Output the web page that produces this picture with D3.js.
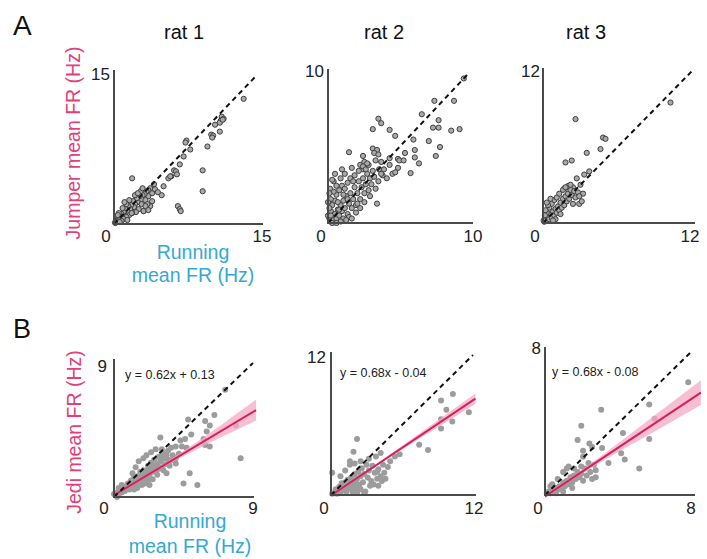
<!DOCTYPE html>
<html><head><meta charset="utf-8">
<script src="https://cdn.jsdelivr.net/npm/d3@7"></script>
<style>body{margin:0;background:#fff}svg{display:block}text{font-family:"Liberation Sans",Arial,sans-serif}</style>
</head><body>
<svg id="c" width="707" height="559"></svg>
<script>
// ---------- data ----------
const ratNames = ["rat 1", "rat 2", "rat 3"];
const panelMaxA = [15, 10, 12];
const panelMaxB = [9, 12, 8];
const slopes = [0.62, 0.68, 0.68];
const intercepts = [0.13, -0.04, -0.08];
const eqLabels = ["y = 0.62x + 0.13", "y = 0.68x - 0.04", "y = 0.68x - 0.08"];
const fitXEnd = [9.2, 12.2, 8.6];
const bandX = [[0, 2, 4, 6, 8, 9.2], [0, 3, 6, 9, 12.2], [0, 2, 4, 6, 8.6]];
const bandHalf = [[0.1, 0.08, 0.15, 0.3, 0.55, 0.7], [0.1, 0.08, 0.15, 0.3, 0.45], [0.1, 0.1, 0.25, 0.45, 0.7]];

const aRat1 = [[13.6,12.6],[11.3,10.8],[11.5,10.6],[11.2,10.4],[11.1,10.2],[11.4,10.5],[10.6,10.0],[11.1,9.3],[10.2,9.0],[10.4,8.9],[10.3,8.7],[9.8,7.8],[7.6,8.4],[7.5,8.2],[8.0,7.5],[7.3,6.8],[6.9,6.0],[6.3,5.4],[6.5,5.3],[6.6,5.0],[6.0,4.8],[5.7,4.6],[5.9,4.8],[9.3,5.4],[9.3,3.3],[5.2,3.8],[5.0,2.9],[6.7,1.8],[6.9,1.5],[7.0,1.3],[1.9,4.6],
[3.8,3.6],[3.6,3.4],[3.4,3.3],[4.0,3.1],[3.6,2.8],[4.0,2.3],[3.8,1.8],[3.2,3.0],[3.0,2.9],[2.9,2.5],[2.7,2.8],[2.5,2.2],[2.4,2.6],[2.2,2.0],[2.0,2.3],[2.1,1.7],[1.8,1.9],[1.7,1.5],[1.5,1.8],[1.4,1.3],[1.2,1.5],[1.1,1.0],[1.0,1.2],[0.9,0.8],[0.8,1.0],[0.7,0.6],[0.6,0.8],[0.5,0.4],[0.4,0.5],[0.3,0.3],[0.2,0.2],[0.15,0.1],[0.1,0.15],[2.6,1.5],[3.1,1.3],[2.9,2.0],[3.3,2.4],[2.3,1.2],[1.9,1.1],[1.6,0.9],[1.3,0.7],[1.0,0.5],[0.8,0.3],[2.8,3.3],[2.2,2.9],[1.6,2.4],[1.3,2.0],[0.9,1.6],[4.3,3.5],[4.6,3.2],[3.5,2.0],[4.2,4.0],[3.0,3.6],[2.5,3.1],[1.1,2.2],[0.5,1.1],[0.4,0.9],[0.6,0.2],[1.4,0.4],[1.85,1.1],[3.1,1.3],[3.3,1.8],[3.6,1.4]];

const aRat2 = [[9.7,9.7],[7.6,8.2],[9.0,8.2],[6.7,7.3],[7.9,6.9],[3.6,7.0],[3.8,6.7],[3.2,6.3],[4.4,6.25],[4.8,5.85],[7.5,6.4],[7.9,6.4],[8.8,6.2],[9.4,6.3],[6.1,5.6],[7.2,5.5],[8.0,5.1],[7.7,4.5],[1.5,4.75],[2.5,4.5],[3.2,5.0],[3.5,4.9],[3.3,4.7],[3.6,4.6],[5.5,4.7],[6.2,4.9],[6.2,4.4],[5.0,4.3],[5.1,4.2],[5.4,4.2],[4.4,4.35],[1.7,3.7],[2.3,3.9],[2.6,4.1],[2.9,3.9],[2.5,3.6],[3.65,3.6],[3.8,4.1],[3.9,3.2],[4.4,3.9],[5.0,3.7],[4.2,3.0],[4.6,3.3],[4.8,3.4],[5.9,3.35],[6.5,4.0],[3.5,1.3],
[0.1,0.3],[0.2,0.1],[0.3,0.5],[0.2,0.8],[0.4,0.2],[0.5,0.6],[0.3,1.2],[0.6,0.3],[0.7,0.9],[0.5,1.5],[0.8,0.5],[0.9,1.2],[0.6,1.9],[1.0,0.8],[1.1,1.5],[0.8,2.2],[1.2,1.0],[1.3,1.8],[1.0,2.5],[1.4,0.6],[1.5,1.3],[1.2,2.3],[1.6,2.0],[1.7,1.0],[1.4,2.7],[1.8,1.6],[1.9,2.4],[2.0,1.2],[1.6,3.0],[2.1,2.0],[2.2,2.8],[2.3,1.6],[1.9,3.2],[2.4,2.4],[2.5,3.0],[2.6,2.0],[2.2,3.5],[2.7,2.6],[2.8,3.3],[2.9,2.2],[2.5,3.8],[3.0,3.0],[3.1,2.6],[3.2,3.5],[2.8,4.0],[3.3,3.1],[0.2,1.6],[0.4,2.1],[0.1,1.0],[0.7,1.4],[1.1,0.3],[0.9,0.1],[1.5,0.4],[2.0,0.7],[1.3,0.2],[0.3,0.0],[0.6,0.0],[0.0,0.5],[0.0,1.4],[0.15,2.3],[0.4,2.8],[0.9,3.0],[1.2,3.3],[1.7,0.3],[2.3,1.0],[2.6,1.4],[3.0,1.8],[3.4,2.3],[3.6,2.8],[3.8,3.3],[0.5,3.3],[1.0,3.6],[0.3,2.9],[0.1,2.0],[0.6,2.5],[1.1,1.9],[1.8,2.8],[2.1,1.3],[0.8,0.9],[0.2,0.5],[1.4,1.6],[2.7,3.6],[3.4,4.2],[4.0,3.6]];

const aRat3 = [[10.2,9.45],[2.6,8.15],[4.8,6.7],[5.0,6.6],[4.6,5.8],[3.5,5.5],[1.8,4.75],[2.3,4.9],[3.7,4.05],[3.3,3.8],[2.7,3.5],[3.2,2.3],[2.9,1.5],[1.7,2.7],[1.9,2.8],[2.4,2.8],
[0.1,0.1],[0.2,0.3],[0.3,0.2],[0.4,0.5],[0.5,0.3],[0.6,0.7],[0.7,0.4],[0.8,0.9],[0.9,0.6],[1.0,1.1],[1.1,0.8],[1.2,1.3],[1.3,1.0],[1.4,1.6],[1.5,1.2],[1.6,1.9],[1.7,1.4],[1.8,2.1],[1.9,1.7],[2.0,2.3],[2.1,1.9],[2.2,2.6],[2.3,2.2],[2.5,2.5],[2.6,2.0],[0.3,0.8],[0.5,1.2],[0.7,1.5],[0.4,1.4],[0.9,1.8],[1.1,2.0],[0.2,1.0],[0.6,1.9],[1.3,2.3],[1.0,0.3],[1.4,0.7],[0.8,0.2],[2.4,1.5],[2.8,2.4],[3.0,3.0],[2.9,2.1],[3.1,1.7],[0.15,0.6],[0.05,0.2],[0.3,1.6],[1.6,2.6],[2.0,2.9],[2.2,3.0],[1.8,2.8]];

const bRat1 = [[7.9,4.8],[8.2,2.6],[7.2,7.2],[6.5,5.5],[5.9,5.1],[6.2,4.8],[6.0,4.4],[5.8,3.9],[5.9,3.5],[6.2,3.4],[4.8,5.2],[4.9,1.6],[4.5,0.9],[5.4,0.8],[4.3,3.8],[4.6,3.9],[5.0,4.2],[3.0,4.0],[3.1,3.2],[3.5,3.1],[3.8,2.5],[4.0,2.25],
[0.1,0.1],[0.2,0.3],[0.3,0.2],[0.4,0.4],[0.5,0.3],[0.6,0.5],[0.7,0.4],[0.8,0.7],[0.9,0.6],[1.0,0.8],[1.1,0.7],[1.2,1.0],[1.3,0.8],[1.4,1.2],[1.5,1.0],[1.6,1.3],[1.7,1.1],[1.8,1.5],[1.9,1.2],[2.0,1.6],[2.1,1.4],[2.2,1.8],[2.3,1.5],[2.4,1.9],[2.5,1.7],[2.6,2.1],[2.7,1.8],[2.8,2.2],[2.9,1.9],[3.0,2.4],[3.1,2.0],[3.2,2.6],[3.3,2.2],[3.5,2.5],[3.6,2.1],[3.8,2.8],[4.0,2.6],[4.2,2.9],[1.4,2.0],[1.6,2.4],[1.9,2.6],[2.1,2.8],[2.4,3.0],[2.7,3.2],[1.2,1.6],[0.5,0.8],[0.3,0.6],[2.0,0.9],[1.8,0.8],[2.5,1.2],[2.3,0.8],[1.5,0.6],[3.4,1.6],[0.2,0.0],[0.0,0.2],[3.7,3.3],[4.0,3.4],[4.4,3.4],[4.7,3.3],
[0.6,0.7],[0.9,0.9],[1.1,1.1],[1.3,1.3],[1.5,1.4],[1.7,1.7],[1.9,1.8],[2.2,2.1],[2.4,2.3],[2.6,2.5],[2.9,2.7],[3.2,2.9],[3.4,2.8],[1.0,0.5],[1.3,0.5],[1.7,0.9],[2.2,1.1],[2.8,1.5],[3.2,1.8],[3.6,2.4]];

const bRat2 = [[9.3,8.1],[10.3,8.65],[9.75,7.3],[9.3,6.5],[9.3,5.7],[10.25,6.3],[11.65,7.1],[2.2,4.8],[1.9,3.7],[1.6,2.9],[7.45,4.3],[8.2,3.85],[5.8,3.5],[5.4,3.3],[0.1,1.9],
[0.1,0.1],[0.3,0.2],[0.4,0.5],[0.6,0.3],[0.7,0.7],[0.9,0.5],[1.0,0.9],[1.1,0.4],[1.2,1.1],[1.3,0.7],[1.4,1.3],[1.5,0.6],[1.6,1.0],[1.7,1.5],[1.8,0.8],[1.9,1.2],[2.0,1.8],[2.1,0.5],[2.2,1.4],[2.3,2.0],[2.4,0.9],[2.5,1.6],[2.6,2.3],[2.7,1.1],[2.8,1.8],[2.9,0.3],[3.0,2.6],[3.1,1.5],[3.2,2.1],[3.3,0.8],[3.4,1.2],[3.5,2.5],[3.7,1.9],[3.9,1.4],[4.0,2.2],[4.2,1.6],[4.4,2.6],[4.5,1.9],[4.8,2.4],[5.0,2.9],[3.2,3.1],[2.5,2.9],[1.6,2.6],[1.2,2.1],[0.8,1.6],[2.0,2.7],[3.8,3.3],[4.2,3.6],[2.8,0.2],[2.5,0.5],[3.6,0.9],[4.3,1.2],[4.0,0.8],[3.9,2.0],[4.6,1.4],
[0.5,0.1],[0.8,0.2],[1.3,0.3],[1.8,0.3],[2.2,0.2],[2.4,0.6],[1.9,0.7],[1.5,0.9],[2.1,1.0],[0.9,1.0]];

const bRat3 = [[7.9,6.35],[5.75,5.1],[6.05,4.3],[5.75,3.15],[5.2,1.5],[3.1,4.8],[2.0,3.9],[1.8,3.1],[2.1,2.5],[2.45,2.9],[2.6,2.7],[3.15,2.65],[2.1,2.15],[4.3,3.5],[4.2,2.35],[4.4,2.0],[3.5,1.8],[2.8,1.4],[2.8,1.0],
[0.1,0.1],[0.2,0.2],[0.3,0.1],[0.4,0.3],[0.5,0.2],[0.6,0.4],[0.7,0.3],[0.8,0.5],[0.9,0.4],[1.0,0.7],[1.1,0.5],[1.2,0.8],[1.3,0.6],[1.4,1.0],[1.5,0.7],[1.6,1.1],[1.7,0.9],[1.8,1.3],[1.9,1.0],[2.0,1.2],[2.1,0.8],[2.2,1.5],[2.3,1.1],[2.5,1.3],[2.6,0.9],[1.2,1.5],[1.3,1.6],[1.0,1.3],[0.7,0.9],[0.4,0.6],[0.3,0.5],[1.6,1.5],[2.0,1.6],[0.6,0.1],[1.0,0.2],[1.5,0.4],[2.4,1.8],[2.7,1.7]];

const pointsA = [aRat1, aRat2, aRat3];
const pointsB = [bRat1, bRat2, bRat3];

// ---------- layout ----------
const PINK = "#e2407a", CYAN = "#35a8d4", LINE = "#d81e5f", AX = "#4a4a4a";
const geomA = [
  {ox:114, oy:224, xe:257, ye:75, ar:263, at:70},
  {ox:328, oy:223, xe:468, ye:74, ar:473, at:69},
  {ox:543, oy:223, xe:693, ye:70, ar:695, at:68}];
const geomB = [
  {ox:114, oy:497, xe:253, ye:363, ar:254, at:359},
  {ox:331, oy:495, xe:473, ye:355, ar:476, at:352},
  {ox:545, oy:495, xe:690, ye:353, ar:695, at:347}];
const tickTop = [[110,74],[324,71],[540,71]], tickTopB = [[107,366],[326,357],[541,348]];
const tickZeroA = [106,321,535], tickZeroB = [104,324,538];
const tickRightA = [262,473,690], tickRightB = [253,474,691];
const eqX = [125,340,552], eqY = [375,373,372];

const svg = d3.select("#c");

function panel(g, max, pts, isB, i) {
  const x = d3.scaleLinear([0, max], [g.ox, g.xe]);
  const y = d3.scaleLinear([0, max], [g.oy, g.ye]);
  const G = svg.append("g");
  if (!isB) {
    G.selectAll("circle").data(pts).join("circle")
      .attr("cx", d => x(d[0])).attr("cy", d => y(d[1])).attr("r", 2.6)
      .attr("fill", "#a9a9a9").attr("stroke", "#3f3f3f").attr("stroke-width", 1);
  } else {
    G.selectAll("circle").data(pts).join("circle")
      .attr("cx", d => x(d[0])).attr("cy", d => y(d[1])).attr("r", 3)
      .attr("fill", "#9c9c9c");
    const bx = bandX[i], bh = bandHalf[i];
    const band = bx.map((v, k) => ({x: v, lo: slopes[i]*v + intercepts[i] - bh[k], hi: slopes[i]*v + intercepts[i] + bh[k]}));
    G.append("path").datum(band)
      .attr("d", d3.area().x(d => x(d.x)).y0(d => y(d.lo)).y1(d => y(d.hi)).curve(d3.curveMonotoneX))
      .attr("fill", "#f3a9c3").attr("opacity", 0.75);
    const fit = [0, fitXEnd[i]].map(v => [v, slopes[i]*v + intercepts[i]]);
    G.append("path").datum(fit)
      .attr("d", d3.line().x(d => x(d[0])).y(d => y(d[1])))
      .attr("stroke", LINE).attr("stroke-width", 2).attr("fill", "none");
    G.append("text").attr("x", eqX[i]).attr("y", eqY[i]).attr("dy", "0.35em")
      .attr("font-size", 12.5).attr("fill", "#222").text(eqLabels[i]);
  }
  G.append("path").datum([[0,0],[max,max]])
    .attr("d", d3.line().x(d => x(d[0])).y(d => y(d[1])))
    .attr("stroke", "#111").attr("stroke-width", 2).attr("stroke-dasharray", "5,4").attr("fill", "none");
  G.append("path").attr("d", `M${g.ox},${g.at}V${g.oy}H${g.ar}`)
    .attr("stroke", AX).attr("stroke-width", 2).attr("fill", "none");
  const tt = isB ? tickTopB[i] : tickTop[i];
  G.append("text").attr("x", tt[0]).attr("y", tt[1]).attr("dy", "0.35em").attr("text-anchor", "end")
    .attr("font-size", 17).attr("fill", "#222").text(String(max));
  const ty = isB ? 508 : 236;
  G.append("text").attr("x", isB ? tickZeroB[i] : tickZeroA[i]).attr("y", ty).attr("dy", "0.35em").attr("text-anchor", "middle")
    .attr("font-size", 17).attr("fill", "#222").text("0");
  G.append("text").attr("x", isB ? tickRightB[i] : tickRightA[i]).attr("y", ty).attr("dy", "0.35em").attr("text-anchor", "middle")
    .attr("font-size", 17).attr("fill", "#222").text(String(max));
}

for (let i = 0; i < 3; i++) {
  panel(geomA[i], panelMaxA[i], pointsA[i], false, i);
  panel(geomB[i], panelMaxB[i], pointsB[i], true, i);
}

const titleX = [184, 384, 586];
ratNames.forEach((t, i) => svg.append("text").attr("x", titleX[i]).attr("y", 39)
  .attr("text-anchor", "middle").attr("font-size", 20).attr("fill", "#111").text(t));
svg.append("text").attr("x", 13).attr("y", 35).attr("font-size", 28).attr("fill", "#111").text("A");
svg.append("text").attr("x", 13).attr("y", 338).attr("font-size", 27).attr("fill", "#111").text("B");

svg.append("text").attr("transform", "translate(73,143) rotate(-90)").attr("dy", "0.35em")
  .attr("text-anchor", "middle").attr("font-size", 19.5).attr("fill", PINK).text("Jumper mean FR (Hz)");
svg.append("text").attr("transform", "translate(74,432) rotate(-90)").attr("dy", "0.35em")
  .attr("text-anchor", "middle").attr("font-size", 19.5).attr("fill", PINK).text("Jedi mean FR (Hz)");
[[252, "Running"], [275, "mean FR (Hz)"]].forEach(([yy, t]) => svg.append("text").attr("x", 193).attr("y", yy).attr("dy", "0.35em")
  .attr("text-anchor", "middle").attr("font-size", 19.5).attr("fill", CYAN).text(t));
[[521, "Running"], [546, "mean FR (Hz)"]].forEach(([yy, t]) => svg.append("text").attr("x", 190).attr("y", yy).attr("dy", "0.35em")
  .attr("text-anchor", "middle").attr("font-size", 19.5).attr("fill", CYAN).text(t));
</script>
</body></html>
